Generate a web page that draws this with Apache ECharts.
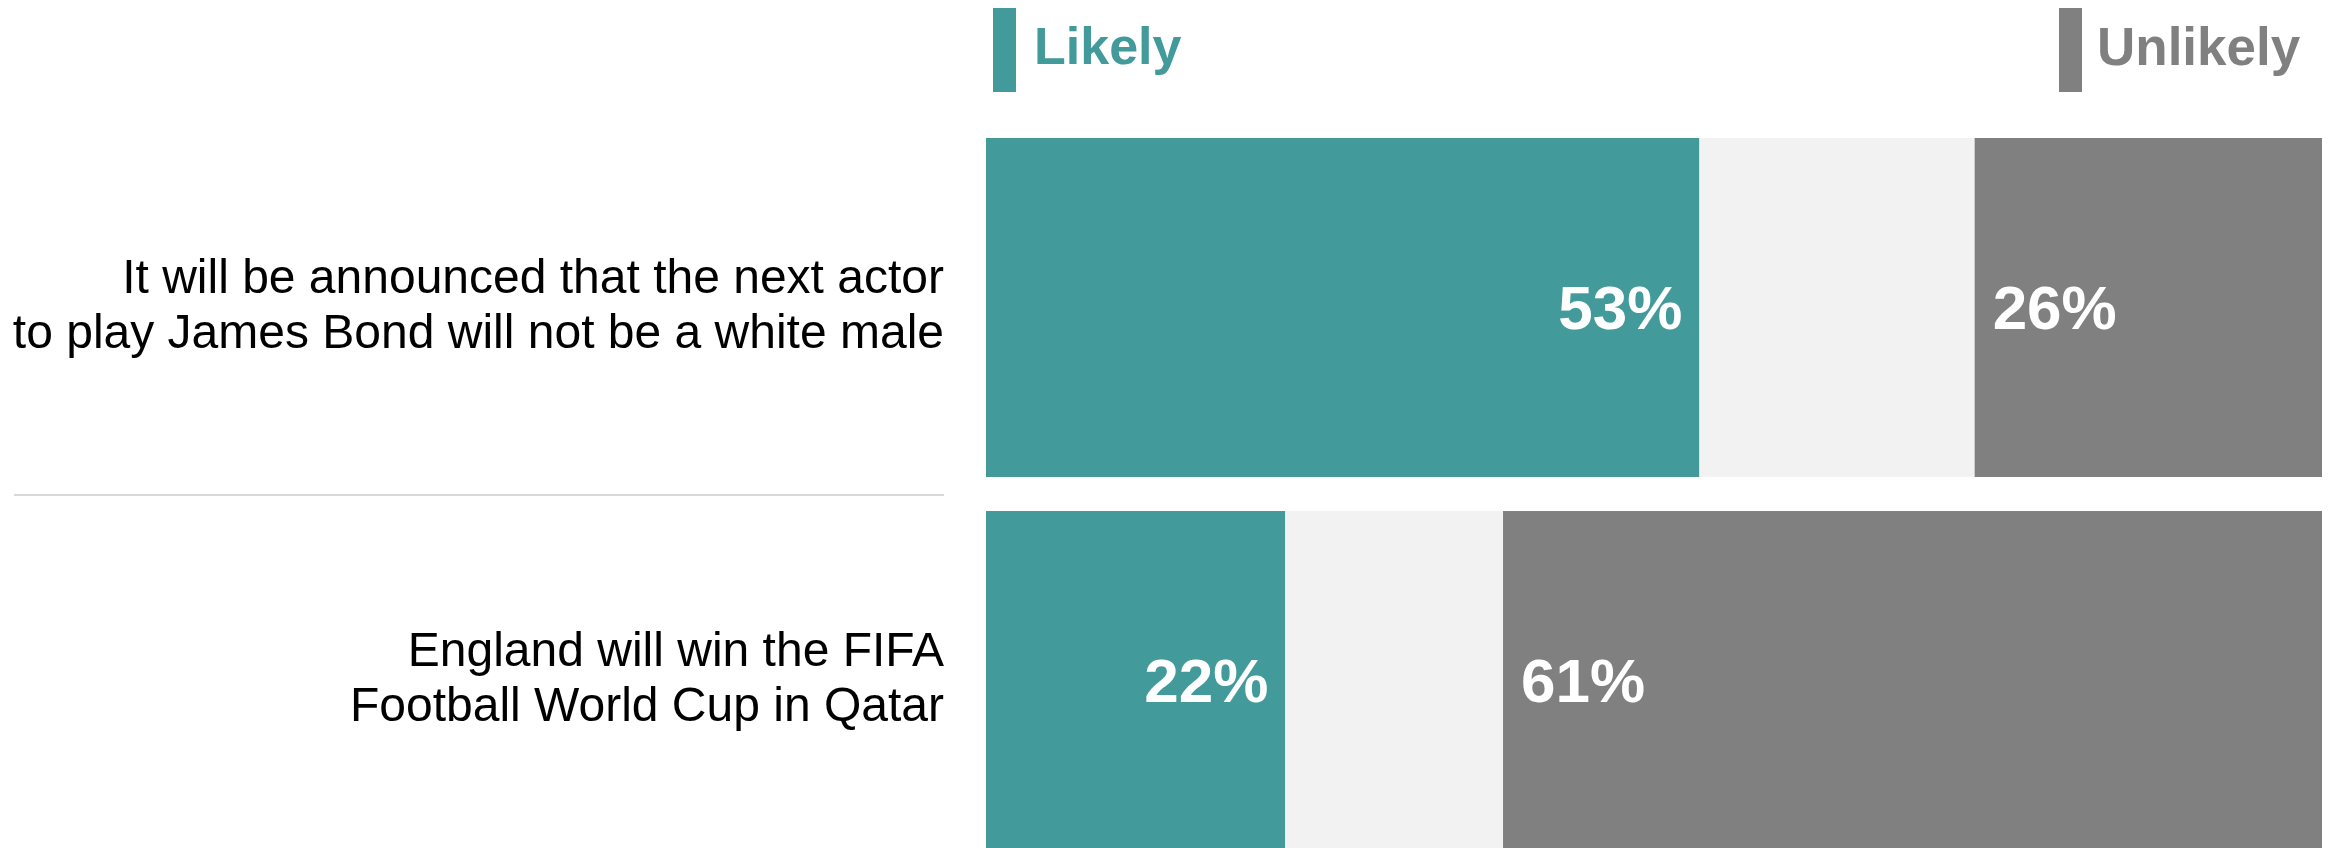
<!DOCTYPE html>
<html>
<head>
<meta charset="utf-8">
<script src="https://cdn.jsdelivr.net/npm/echarts@6/dist/echarts.min.js"></script>
<style>
  html, body { margin: 0; padding: 0; background: #ffffff; }
  #chart { width: 2329px; height: 848px; }
</style>
</head>
<body>
<div id="chart"></div>
<script>
// ---- data ----
const categories = [
  'It will be announced that the next actor\nto play James Bond will not be a white male',
  'England will win the FIFA\nFootball World Cup in Qatar'
];
const seriesNames = ['Likely', 'Neither', 'Unlikely'];
const likelyValues = [53.4, 22.4];
const neitherValues = [20.6, 16.3];
const unlikelyValues = [26.0, 61.3];

// ---- styles ----
const TEAL = '#439A9A';
const LIGHT = '#F2F2F2';
const GRAY = '#808080';
const FONT = '"Liberation Sans", Arial, Helvetica, sans-serif';

const chart = echarts.init(document.getElementById('chart'), null, { renderer: 'canvas' });

const pctLabel = (pos, dist) => ({
  show: true,
  position: pos,
  distance: dist,
  offset: [0, 4],
  color: '#ffffff',
  fontFamily: FONT,
  fontWeight: 'bold',
  fontSize: 62,
  formatter: p => Math.round(p.value) + '%'
});

const option = {
  animation: false,
  backgroundColor: '#ffffff',
  textStyle: { fontFamily: FONT },
  legend: [
    {
      data: [{ name: 'Likely', textStyle: { color: TEAL } }],
      left: 993, top: 8,
      icon: 'rect', itemWidth: 23, itemHeight: 84,
      selectedMode: false,
      padding: 0,
      textStyle: { fontFamily: FONT, fontWeight: 'bold', fontSize: 52, padding: [0, 0, 0, 13] }
    },
    {
      data: [{ name: 'Unlikely', textStyle: { color: GRAY } }],
      left: 2059, top: 8,
      icon: 'rect', itemWidth: 23, itemHeight: 84,
      selectedMode: false,
      padding: 0,
      textStyle: { fontFamily: FONT, fontWeight: 'bold', fontSize: 53, padding: [0, 0, 0, 10] }
    }
  ],
  grid: { left: 986, right: 7, top: 121, bottom: -19, containLabel: false, outerBoundsMode: 'none' },
  xAxis: {
    type: 'value', min: 0, max: 100, show: false
  },
  yAxis: {
    type: 'category',
    inverse: true,
    data: categories,
    axisLine: { show: false },
    axisTick: { show: false },
    splitLine: { show: false },
    axisLabel: {
      margin: 42,
      color: '#000000',
      fontFamily: FONT,
      fontSize: 48,
      lineHeight: 55,
      align: 'right',
      padding: [9, 0, 0, 0]
    }
  },
  series: [
    {
      name: seriesNames[0], type: 'bar', stack: 'total', data: likelyValues,
      barWidth: 339, itemStyle: { color: TEAL },
      label: pctLabel('insideRight', 17)
    },
    {
      name: seriesNames[1], type: 'bar', stack: 'total', data: neitherValues,
      barWidth: 339, itemStyle: { color: LIGHT },
      label: { show: false }
    },
    {
      name: seriesNames[2], type: 'bar', stack: 'total', data: unlikelyValues,
      barWidth: 339, itemStyle: { color: GRAY },
      label: pctLabel('insideLeft', 18)
    }
  ]
};

chart.setOption(option);

// separator line between the two category rows, left of the plot
const y0 = chart.convertToPixel({ yAxisIndex: 0 }, categories[0]);
const y1 = chart.convertToPixel({ yAxisIndex: 0 }, categories[1]);
const sepY = Math.round((y0 + y1) / 2) + 1;
chart.setOption({
  graphic: [{
    type: 'line',
    shape: { x1: 14, y1: sepY, x2: 944, y2: sepY },
    style: { stroke: '#D9D9D9', lineWidth: 2 },
    silent: true
  }]
});
</script>
</body>
</html>
